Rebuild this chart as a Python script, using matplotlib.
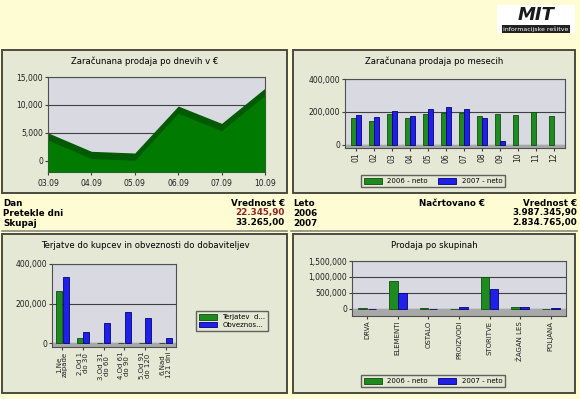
import matplotlib
matplotlib.use("Agg")
import matplotlib.pyplot as plt
from matplotlib.patches import Rectangle
from matplotlib.ticker import FuncFormatter
import numpy as np

W, H = 580, 399

# daily sales
days = ["03.09", "04.09", "05.09", "06.09", "07.09", "10.09"]
daily = [5000, 1700, 1400, 9800, 6700, 13000]

# monthly sales
months = ["01", "02", "03", "04", "05", "06", "07", "08", "09", "10", "11", "12"]
month_2006 = [160000, 145000, 190000, 165000, 190000, 195000, 195000, 175000, 190000, 180000, 200000, 175000]
month_2007 = [180000, 170000, 205000, 175000, 215000, 230000, 215000, 160000, 25000]

# receivables / payables
buckets = ["1.Ne\nzapade", "2.Od 1\ndo 30", "3.Od 31\ndo 60", "4.Od 61\ndo 90", "5.Od 91\ndo 120", "6.Nad\n121 dni"]
terjatve = [265000, 25000, 2000, 1000, 1000, 1000]
obveznosti = [335000, 55000, 100000, 155000, 125000, 28000]

# sales by group
groups = ["DRVA", "ELEMENTI", "OSTALO", "PROIZVODI", "STORITVE", "ŽAGAN LES", "POLJANA"]
group_2006 = [15000, 870000, 15000, 10000, 1000000, 50000, 10000]
group_2007 = [10000, 500000, 10000, 60000, 620000, 50000, 40000]

BG = "#FEFCD2"
PANEL = "#E4E8D5"
PLOT = "#D9D9E2"
GREEN = "#1F8A1F"
GREEN_E = "#0B4F0B"
BLUE = "#2020E8"
BLUE_E = "#00007A"

fig = plt.figure(figsize=(W / 100, H / 100), dpi=100, facecolor=BG)


def rect(x0, y0, x1, y1):
    return [x0 / W, 1 - y1 / H, (x1 - x0) / W, (y1 - y0) / H]


def panel(x0, y0, x1, y1):
    fig.patches.append(Rectangle((x0 / W, 1 - y1 / H), (x1 - x0) / W, (y1 - y0) / H,
                                 transform=fig.transFigure, facecolor=PANEL,
                                 edgecolor="#4A4A40", lw=1.4, zorder=-5))


def style(ax, ymin, ymax, ticks):
    ax.set_facecolor(PLOT)
    ax.set_ylim(ymin, ymax)
    ax.set_yticks(ticks)
    ax.yaxis.set_major_formatter(FuncFormatter(lambda v, p: f"{int(v):,}"))
    for t in ticks:
        ax.axhline(t, color="#404040", lw=0.8, zorder=1)
    ax.axhspan(ymin, 0, color="#A8A8A8", zorder=1)
    for s in ax.spines.values():
        s.set_color("#505050")
        s.set_linewidth(0.8)
    ax.tick_params(labelsize=5.5, length=2, color="#404040", pad=1.5, labelcolor="#202020")


fs_title = 6.1
fs_txt = 6.3
leg_kw = dict(fontsize=5, frameon=True, fancybox=False, edgecolor="#404040", facecolor=PANEL,
              handlelength=2.6, handleheight=0.9, borderpad=0.4, bbox_transform=fig.transFigure,
              loc="center")

# panels
panel(2, 50, 287, 193)
panel(293, 50, 575, 193)
panel(2, 234, 287, 393)
panel(293, 234, 575, 393)

# ---- daily area chart
ax1 = fig.add_axes(rect(48, 77, 265, 172))
style(ax1, -2000, 15000, [0, 5000, 10000, 15000])
x = np.arange(len(days))
ax1.fill_between(x, -2000, daily, color="#005A00", zorder=2, lw=0)
ax1.fill_between(x, -2000, np.array(daily) - 1300, color="#007A00", zorder=3, lw=0)
ax1.set_xlim(0, len(days) - 1)
ax1.set_xticks(x)
ax1.set_xticklabels(days)
ax1.tick_params(axis="x", pad=3)
fig.text(145 / W, 1 - 61 / H, "Zaračunana prodaja po dnevih v €", ha="center", va="center", fontsize=fs_title)

# ---- monthly bars
ax2 = fig.add_axes(rect(345, 79, 565, 148))
style(ax2, -20000, 400000, [0, 200000, 400000])
xm = np.arange(len(months))
b1 = ax2.bar(xm - 0.15, month_2006, 0.28, color=GREEN, edgecolor=GREEN_E, lw=0.6, zorder=3, label="2006 - neto")
b2 = ax2.bar(xm[:len(month_2007)] + 0.15, month_2007, 0.28, color=BLUE, edgecolor=BLUE_E, lw=0.6, zorder=3, label="2007 - neto")
ax2.set_xlim(-0.6, len(months) - 0.4)
ax2.set_xticks(xm)
ax2.set_xticklabels(months, rotation=90)
fig.text(434 / W, 1 - 61 / H, "Zaračunana prodaja po mesecih", ha="center", va="center", fontsize=fs_title)
ax2.legend(handles=[b1, b2], bbox_to_anchor=(433 / W, 1 - 181 / H), ncol=2, columnspacing=1.5, **leg_kw)

# ---- receivables / payables
ax3 = fig.add_axes(rect(52, 264, 176, 347))
style(ax3, -20000, 400000, [0, 200000, 400000])
xb = np.arange(len(buckets))
b3 = ax3.bar(xb - 0.16, terjatve, 0.3, color=GREEN, edgecolor=GREEN_E, lw=0.6, zorder=3, label="Terjatev  d...")
b4 = ax3.bar(xb + 0.16, obveznosti, 0.3, color=BLUE, edgecolor=BLUE_E, lw=0.6, zorder=3, label="Obveznos...")
ax3.set_xlim(-0.5, len(buckets) - 0.5)
ax3.set_xticks(xb)
ax3.set_xticklabels(buckets, rotation=90, linespacing=0.95)
ax3.tick_params(axis="x", labelsize=5)
fig.text(145 / W, 1 - 245 / H, "Terjatve do kupcev in obveznosti do dobaviteljev", ha="center", va="center", fontsize=fs_title)
ax3.legend(handles=[b3, b4], bbox_to_anchor=(232 / W, 1 - 321 / H), ncol=1, labelspacing=0.2, **leg_kw)

# ---- sales by group
ax4 = fig.add_axes(rect(352, 261, 566, 316))
style(ax4, -220000, 1500000, [0, 500000, 1000000, 1500000])
xg = np.arange(len(groups))
b5 = ax4.bar(xg - 0.15, group_2006, 0.28, color=GREEN, edgecolor=GREEN_E, lw=0.6, zorder=3, label="2006 - neto")
b6 = ax4.bar(xg + 0.15, group_2007, 0.28, color=BLUE, edgecolor=BLUE_E, lw=0.6, zorder=3, label="2007 - neto")
ax4.set_xlim(-0.5, len(groups) - 0.5)
ax4.set_xticks(xg)
ax4.set_xticklabels(groups, rotation=90)
ax4.tick_params(axis="x", labelsize=5)
fig.text(434 / W, 1 - 246 / H, "Prodaja po skupinah", ha="center", va="center", fontsize=fs_title)
ax4.legend(handles=[b5, b6], bbox_to_anchor=(433 / W, 1 - 381 / H), ncol=2, columnspacing=1.5, **leg_kw)

# ---- summary rows
rows_y = [203, 213, 223]
kw = dict(fontsize=fs_txt, fontweight="bold", va="center")
left_rows = [("Dan", "Vrednost €", "black"), ("Pretekle dni", "22.345,90", "#8B2323"), ("Skupaj", "33.265,00", "black")]
right_rows = [("Leto", "Načrtovano €", "Vrednost €"), ("2006", "", "3.987.345,90"), ("2007", "", "2.834.765,00")]
for y, (a, b, c) in zip(rows_y, left_rows):
    fig.text(3 / W, 1 - y / H, a, ha="left", **kw)
    fig.text(285 / W, 1 - y / H, b, ha="right", color=c, **kw)
for y, (a, b, c) in zip(rows_y, right_rows):
    fig.text(293 / W, 1 - y / H, a, ha="left", **kw)
    fig.text(485 / W, 1 - y / H, b, ha="right", **kw)
    fig.text(577 / W, 1 - y / H, c, ha="right", **kw)
fig.add_artist(plt.Line2D([2 / W, 287 / W], [1 - 231 / H] * 2, color="#8A8A80", lw=1.2))
fig.add_artist(plt.Line2D([291 / W, 577 / W], [1 - 231 / H] * 2, color="#8A8A80", lw=1.2))

# ---- logo
fig.patches.append(Rectangle((497 / W, 1 - 33 / H), 78 / W, 28 / H, transform=fig.transFigure,
                             facecolor="white", edgecolor="none", zorder=-5))
fig.text(536 / W, 1 - 15 / H, "MIT", ha="center", va="center", fontsize=13, fontweight="bold",
         fontstyle="italic", color="#1A1A1A")
fig.text(536 / W, 1 - 29 / H, "informacijske rešitve", ha="center", va="center", fontsize=4.5,
         color="white", bbox=dict(facecolor="#222222", edgecolor="none", pad=0.8))

fig.savefig("out.png", dpi=100, facecolor=BG)
